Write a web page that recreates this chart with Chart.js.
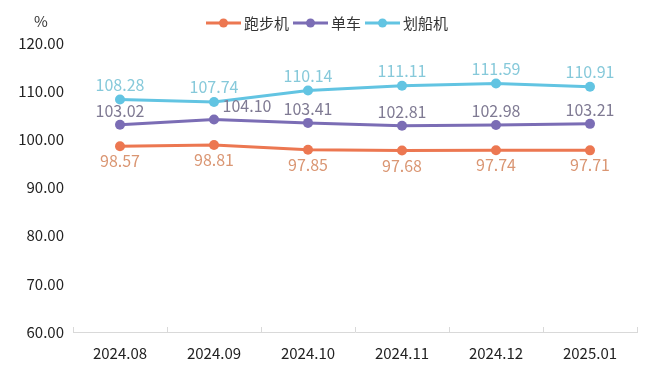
<!DOCTYPE html>
<html>
<head>
<meta charset="utf-8">
<script src="https://cdn.jsdelivr.net/npm/chart.js@4"></script>
<style>
  html, body { margin: 0; padding: 0; background: #fff; }
  #wrap { width: 660px; height: 369px; position: relative; }
</style>
</head>
<body>
<div id="wrap"><canvas id="chart"></canvas></div>
<script>
// data
const months = ["2024.08", "2024.09", "2024.10", "2024.11", "2024.12", "2025.01"];
const treadmill = [98.57, 98.81, 97.85, 97.68, 97.74, 97.71];
const bike = [103.02, 104.10, 103.41, 102.81, 102.98, 103.21];
const rower = [108.28, 107.74, 110.14, 111.11, 111.59, 110.91];
const seriesNames = ["跑步机", "单车", "划船机"];

const FONT = '"Noto Sans CJK SC", "Noto Sans", sans-serif';

const lineColors = ['#ec7751', '#7b6db5', '#62c4e2'];
const labelColors = ['#da9673', '#7f7a93', '#86c9da'];
// label offset from point: negative = above
const labelOffsets = [15, -14, -15];
// the 2024.09 bike label is nudged right in the original
const nudgeX = { '1-1': 33 };

const valueLabels = {
    id: 'valueLabels',
    afterDatasetsDraw(chart) {
        const ctx = chart.ctx;
        ctx.save();
        ctx.font = '16px ' + FONT;
        ctx.textAlign = 'center';
        ctx.textBaseline = 'middle';
        chart.data.datasets.forEach((ds, i) => {
            const meta = chart.getDatasetMeta(i);
            ctx.fillStyle = labelColors[i];
            meta.data.forEach((pt, j) => {
                const dx = nudgeX[i + '-' + j] || 0;
                ctx.fillText(ds.data[j].toFixed(2), pt.x + dx, pt.y + labelOffsets[i]);
            });
        });
        ctx.restore();
    }
};

// small category separators pointing up from the x axis
const axisTicks = {
    id: 'axisTicks',
    afterDraw(chart) {
        const x = chart.scales.x;
        const ctx = chart.ctx;
        const half = (x.getPixelForValue(1) - x.getPixelForValue(0)) / 2;
        ctx.save();
        ctx.strokeStyle = '#d9d9d9';
        ctx.lineWidth = 1;
        for (let i = 0; i <= months.length; i++) {
            const px = Math.round(x.getPixelForValue(i) - half) + 0.5;
            ctx.beginPath();
            ctx.moveTo(px, x.top);
            ctx.lineTo(px, x.top - 5);
            ctx.stroke();
        }
        ctx.restore();
    }
};

// legend drawn by hand: short line with a dot, then the name
const lineLegend = {
    id: 'lineLegend',
    afterDraw(chart) {
        const ctx = chart.ctx;
        ctx.save();
        ctx.font = '15px ' + FONT;
        ctx.textBaseline = 'middle';
        let x = 206;
        const y = 23;
        seriesNames.forEach((name, i) => {
            ctx.strokeStyle = lineColors[i];
            ctx.lineWidth = 3;
            ctx.beginPath();
            ctx.moveTo(x, y);
            ctx.lineTo(x + 35, y);
            ctx.stroke();
            ctx.fillStyle = lineColors[i];
            ctx.beginPath();
            ctx.arc(x + 17.5, y, 4.5, 0, Math.PI * 2);
            ctx.fill();
            ctx.fillStyle = '#333';
            ctx.textAlign = 'left';
            ctx.fillText(name, x + 38, y);
            x += 38 + ctx.measureText(name).width + 4;
        });
        // unit label
        ctx.fillStyle = '#333';
        ctx.textAlign = 'center';
        ctx.font = '15px ' + FONT;
        ctx.fillText('%', 41, 21);
        ctx.restore();
    }
};

const datasets = [treadmill, bike, rower].map((vals, i) => ({
    label: seriesNames[i],
    data: vals,
    borderColor: lineColors[i],
    backgroundColor: lineColors[i],
    borderWidth: 3,
    pointRadius: 5,
    pointHoverRadius: 5,
    pointBackgroundColor: lineColors[i],
    pointBorderWidth: 0,
    tension: 0,
}));

new Chart(document.getElementById('chart'), {
    type: 'line',
    data: { labels: months, datasets },
    options: {
        responsive: true,
        maintainAspectRatio: false,
        animation: false,
        layout: { padding: { top: 43, right: 23, left: 0, bottom: 0 } },
        plugins: {
            legend: { display: false },
            tooltip: { enabled: false },
        },
        scales: {
            x: {
                offset: true,
                afterFit(scale) { scale.height = 37; },
                grid: { display: false },
                border: { color: '#d9d9d9', width: 1 },
                ticks: {
                    color: '#222',
                    font: { family: FONT, size: 15 },
                    padding: 4,
                    maxRotation: 0,
                },
            },
            y: {
                min: 60,
                max: 120,
                afterFit(scale) { scale.width = 73; },
                grid: { display: false, drawTicks: false },
                border: { display: false },
                ticks: {
                    stepSize: 10,
                    color: '#222',
                    padding: 9,
                    font: { family: FONT, size: 15 },
                    callback: v => v.toFixed(2),
                },
            },
        },
    },
    plugins: [valueLabels, axisTicks, lineLegend],
});
</script>
</body>
</html>
